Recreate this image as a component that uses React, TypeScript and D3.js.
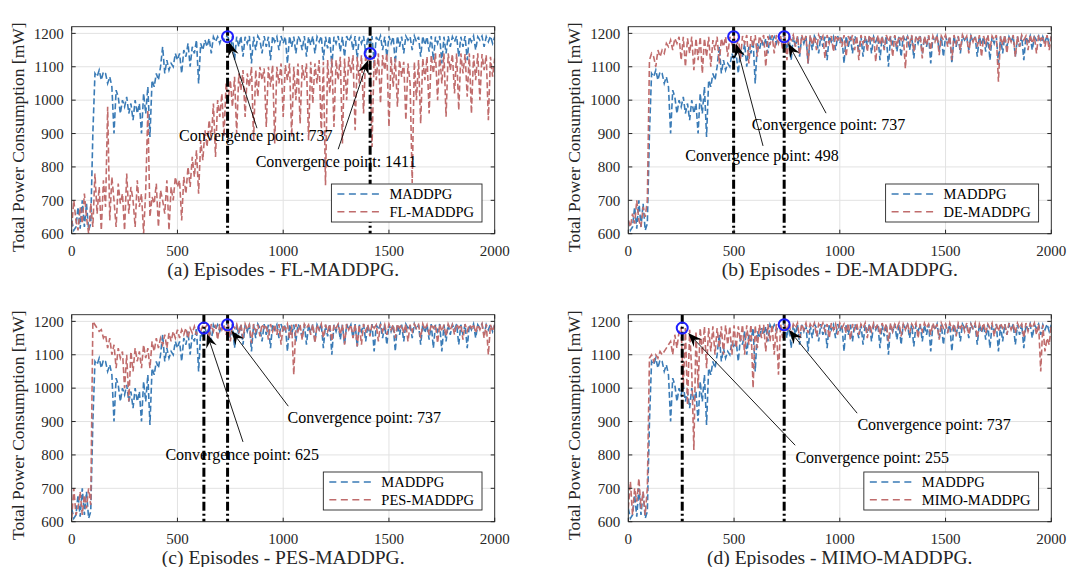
import React, { useEffect, useRef } from 'react';
import * as d3 from 'd3';

// Episodes sampled every 10 episodes, 0..2000
const EPISODES: number[] = d3.range(0, 2001, 10);

const MADDPG = [640,610,620,680,615,700,620,690,610,630,
 900,1080,1070,1090,1060,1085,1080,1050,1070,1040,
 900,1030,1010,960,1000,980,1010,960,990,940,
 1000,960,990,900,1020,960,1040,890,1060,1040,
 1080,1060,1100,1160,1080,1120,1090,1110,1100,1140,
 1120,1140,1080,1150,1130,1170,1100,1160,1140,1180,
 1050,1170,1150,1180,1160,1185,1140,1190,1175,1190,
 1170,1190,1180,1192,1188,1150,1192,1120,1190,1160,
 1192,1130,1190,1170,1192,1110,1190,1150,1192,1180,
 1140,1192,1160,1190,1120,1192,1175,1190,1150,1192,
 1170,1190,1110,1192,1160,1190,1140,1192,1180,1150,
 1192,1130,1190,1165,1192,1140,1190,1175,1192,1120,
 1190,1155,1192,1100,1190,1170,1192,1145,1190,1130,
 1192,1175,1190,1150,1192,1125,1190,1170,1192,1140,
 1190,1160,1192,1110,1190,1175,1192,1150,1190,1130,
 1192,1170,1190,1110,1192,1160,1190,1140,1192,1180,
 1190,1150,1192,1175,1190,1130,1192,1165,1190,1145,
 1192,1120,1190,1170,1192,1110,1190,1140,1192,1160,
 1190,1175,1192,1130,1190,1160,1192,1120,1190,1175,
 1192,1150,1190,1180,1192,1160,1190,1175,1192,1170,
 1190];

const FL_MADDPG = [620,700,640,610,680,630,720,650,600,690,
 620,780,660,740,610,760,680,980,640,770,
 700,620,750,690,720,610,780,660,740,700,
 620,760,680,720,600,730,970,650,710,690,
 750,620,730,700,660,760,610,740,700,770,
 740,760,640,770,720,800,740,830,770,850,
 720,880,820,910,860,940,880,990,830,1000,
 950,1020,890,1050,1000,1060,980,1070,900,1080,
 1030,1090,950,1080,1040,1100,880,1090,1010,1100,
 1060,1095,920,1100,1040,1105,870,1100,1050,1110,
 950,1105,1060,1110,890,1100,1000,1110,930,1105,
 1060,1110,880,1115,990,1110,1050,1120,900,1115,
 745,1120,1020,1125,920,1120,1060,1130,870,1125,
 1000,1130,1080,1135,910,1130,1050,1135,960,1140,
 1100,1140,860,1135,1060,1140,990,1135,1090,1140,
 920,1130,1040,1125,980,1120,1070,1115,940,1110,
 1050,752,1115,1000,1120,930,1125,1060,1130,960,
 1135,1080,1140,1000,1138,1050,1140,950,1140,1090,
 1138,1020,1140,970,1140,1080,1138,1010,1140,960,
 1135,1060,1140,1000,1138,1090,1135,940,1130,1070,
 1125];

const DE_MADDPG = [640,620,660,630,700,640,620,680,650,700,
 1120,1140,1130,1100,1150,1130,1150,1140,1170,1160,
 1180,1150,1185,1170,1190,1120,1190,1100,1185,1140,
 1190,1090,1185,1120,1190,1080,1185,1130,1190,1100,
 1180,1150,1190,1110,1185,1160,1190,1130,1190,1170,
 1192,1140,1195,1120,1192,1170,1195,1110,1192,1160,
 1195,1130,1192,1175,1195,1100,1192,1165,1195,1140,
 1195,1170,1192,1150,1195,1120,1192,1180,1195,1160,
 1192,1135,1195,1175,1192,1110,1195,1165,1192,1150,
 1195,1180,1192,1125,1195,1170,1192,1145,1195,1180,
 1192,1160,1195,1130,1192,1175,1195,1150,1192,1120,
 1195,1170,1192,1145,1195,1180,1192,1115,1195,1165,
 1192,1150,1195,1175,1192,1130,1195,1160,1192,1180,
 1195,1095,1192,1170,1195,1145,1192,1180,1195,1125,
 1192,1165,1195,1150,1192,1175,1195,1135,1192,1180,
 1195,1160,1192,1120,1195,1170,1192,1150,1195,1180,
 1192,1140,1195,1175,1192,1160,1195,1130,1192,1170,
 1195,1150,1192,1180,1195,1055,1192,1165,1195,1140,
 1192,1175,1195,1130,1192,1160,1195,1180,1192,1150,
 1195,1170,1192,1140,1195,1180,1192,1160,1195,1150,
 1192];

const PES_MADDPG = [610,700,620,640,690,620,680,640,700,650,
 1200,1190,1180,1170,1175,1150,1160,1120,1150,1100,
 1130,1060,1120,1090,1110,1000,1100,960,1110,1050,
 1120,1080,1110,1060,1130,1090,1120,1060,1140,1110,
 1150,1120,1150,1130,1160,1120,1165,1140,1170,1150,
 1175,1150,1175,1160,1180,1150,1180,1165,1185,1160,
 1185,1170,1188,1180,1190,1150,1192,1170,1190,1145,
 1192,1175,1190,1160,1192,1140,1190,1180,1192,1165,
 1190,1150,1192,1175,1190,1135,1192,1170,1190,1155,
 1192,1180,1190,1145,1192,1170,1190,1160,1192,1130,
 1190,1175,1192,1150,1190,1040,1192,1170,1190,1145,
 1192,1180,1190,1160,1192,1135,1190,1175,1192,1150,
 1190,1170,1192,1140,1190,1180,1192,1160,1190,1130,
 1192,1175,1190,1150,1192,1125,1190,1130,1192,1170,
 1190,1155,1192,1180,1190,1140,1192,1170,1190,1160,
 1192,1175,1190,1150,1192,1180,1190,1165,1192,1140,
 1190,1170,1192,1180,1190,1150,1192,1175,1190,1160,
 1192,1180,1190,1135,1192,1170,1190,1155,1192,1175,
 1190,1160,1192,1180,1190,1145,1192,1170,1190,1180,
 1192,1165,1190,1175,1192,1150,1192,1100,1190,1170,
 1190];

const MIMO_MADDPG = [640,720,620,700,660,730,640,690,620,700,
 1090,1100,1080,1100,1090,1110,1100,1110,1120,1130,
 1140,1100,1160,1120,1170,1180,1000,1180,950,1175,
 1050,815,1170,1000,1180,1100,1185,1060,1180,1110,
 1185,1100,1180,1120,1185,1100,1188,1130,1185,1100,
 1188,1120,1185,1140,1190,1100,1188,1130,1190,1000,
 1188,1120,1190,1150,1190,1110,1192,1140,1190,1100,
 1192,1040,1192,1150,1192,1170,1195,1160,1192,1180,
 1195,1150,1192,1175,1195,1165,1192,1180,1195,1155,
 1192,1180,1195,1170,1192,1150,1195,1175,1192,1160,
 1195,1180,1192,1165,1195,1145,1192,1175,1195,1160,
 1192,1180,1195,1150,1192,1170,1195,1180,1192,1160,
 1195,1175,1192,1140,1195,1170,1192,1180,1195,1155,
 1192,1175,1195,1165,1192,1180,1195,1150,1192,1170,
 1195,1180,1192,1160,1195,1175,1192,1145,1195,1180,
 1192,1165,1195,1175,1192,1155,1195,1180,1192,1170,
 1195,1160,1192,1180,1195,1150,1192,1175,1195,1165,
 1192,1180,1195,1155,1192,1170,1195,1180,1192,1160,
 1195,1175,1192,1165,1195,1180,1192,1150,1195,1170,
 1192,1180,1195,1160,1192,1050,1190,1110,1150,1130,
 1190];

const X_TICKS = [0, 500, 1000, 1500, 2000];
const Y_TICKS = [600, 700, 800, 900, 1000, 1100, 1200];

// convergence annotations: [episode, value], text anchor (data coords), arrow tail, arrow tip
type Conv = { ep: number; val: number; label: string; textAt: [number, number]; tail: [number, number]; tip: [number, number] };

const CONV_A: Conv[] = [
  { ep: 737, val: 1190, label: 'Convergence point: 737', textAt: [870, 893], tail: [876, 916], tip: [744, 1174] },
  { ep: 1411, val: 1140, label: 'Convergence point: 1411', textAt: [1250, 817], tail: [1260, 853], tip: [1401, 1120] },
];
const CONV_B: Conv[] = [
  { ep: 737, val: 1190, label: 'Convergence point: 737', textAt: [947, 928], tail: [935, 961], tip: [756, 1170] },
  { ep: 498, val: 1190, label: 'Convergence point: 498', textAt: [632, 833], tail: [637, 863], tip: [509, 1170] },
];
const CONV_C: Conv[] = [
  { ep: 737, val: 1190, label: 'Convergence point: 737', textAt: [1383, 913], tail: [1024, 946], tip: [755, 1172] },
  { ep: 625, val: 1180, label: 'Convergence point: 625', textAt: [806, 803], tail: [810, 839], tip: [640, 1163] },
];
const CONV_D: Conv[] = [
  { ep: 737, val: 1190, label: 'Convergence point: 737', textAt: [1446, 892], tail: [1082, 925], tip: [760, 1174] },
  { ep: 255, val: 1180, label: 'Convergence point: 255', textAt: [1153, 794], tail: [789, 829], tip: [283, 1165] },
];

const PANELS = [
  { key: 'a', left: 71.7, top: 26.7, name: 'FL-MADDPG', values: FL_MADDPG, caption: '(a) Episodes - FL-MADDPG.', conv: CONV_A },
  { key: 'b', left: 628.3, top: 26.7, name: 'DE-MADDPG', values: DE_MADDPG, caption: '(b) Episodes - DE-MADDPG.', conv: CONV_B },
  { key: 'c', left: 71.7, top: 314.7, name: 'PES-MADDPG', values: PES_MADDPG, caption: '(c) Episodes - PES-MADDPG.', conv: CONV_C },
  { key: 'd', left: 628.3, top: 314.7, name: 'MIMO-MADDPG', values: MIMO_MADDPG, caption: '(d) Episodes - MIMO-MADDPG.', conv: CONV_D },
];

const W = 1069, H = 567;
const PW = 423, PH = 207;
const BLUE = '#3a7bb6';
const RED = '#c06c6c';
const FONT = '"Liberation Serif", "Times New Roman", serif';

export default function App() {
  const ref = useRef<SVGSVGElement>(null);
  useEffect(() => {
    const svg = d3.select(ref.current);
    svg.selectAll('*').remove();
    svg.append('rect').attr('width', W).attr('height', H).attr('fill', '#fff');
    const defs = svg.append('defs');

    PANELS.forEach((p) => {
      const x = d3.scaleLinear().domain([0, 2000]).range([0, PW]);
      const y = d3.scaleLinear().domain([600, 1220]).range([PH, 0]);
      const g = svg.append('g').attr('transform', `translate(${p.left},${p.top})`);
      defs.append('clipPath').attr('id', `clip-${p.key}`).append('rect').attr('width', PW).attr('height', PH);

      // grid
      g.selectAll('.gx').data(X_TICKS).enter().append('line')
        .attr('x1', (d) => x(d)).attr('x2', (d) => x(d)).attr('y1', 0).attr('y2', PH)
        .attr('stroke', '#e2e2e2').attr('stroke-width', 1);
      g.selectAll('.gy').data(Y_TICKS).enter().append('line')
        .attr('y1', (d) => y(d)).attr('y2', (d) => y(d)).attr('x1', 0).attr('x2', PW)
        .attr('stroke', '#e2e2e2').attr('stroke-width', 1);

      const plot = g.append('g').attr('clip-path', `url(#clip-${p.key})`);
      const line = d3.line<number>().x((_, i) => x(EPISODES[i])).y((d) => y(d));
      plot.append('path').attr('d', line(MADDPG) as string).attr('fill', 'none')
        .attr('stroke', BLUE).attr('stroke-width', 1.6).attr('stroke-dasharray', '6,3');
      plot.append('path').attr('d', line(p.values) as string).attr('fill', 'none')
        .attr('stroke', RED).attr('stroke-width', 1.6).attr('stroke-dasharray', '6,3');

      // convergence lines
      p.conv.forEach((c) => {
        plot.append('line').attr('x1', x(c.ep)).attr('x2', x(c.ep)).attr('y1', 0).attr('y2', PH)
          .attr('stroke', '#000').attr('stroke-width', 3).attr('stroke-dasharray', '9,3,2,3');
      });
      p.conv.forEach((c) => {
        g.append('circle').attr('cx', x(c.ep)).attr('cy', y(c.val)).attr('r', 5.5)
          .attr('fill', 'none').attr('stroke', '#1f1fff').attr('stroke-width', 2);
      });

      // frame
      g.append('rect').attr('width', PW).attr('height', PH).attr('fill', 'none')
        .attr('stroke', '#262626').attr('stroke-width', 0.9);
      // ticks on all sides
      X_TICKS.forEach((t) => {
        g.append('line').attr('x1', x(t)).attr('x2', x(t)).attr('y1', PH).attr('y2', PH - 4).attr('stroke', '#262626');
        g.append('line').attr('x1', x(t)).attr('x2', x(t)).attr('y1', 0).attr('y2', 4).attr('stroke', '#262626');
        g.append('text').attr('x', x(t)).attr('y', PH + 17).attr('text-anchor', 'middle').attr('dy', '0.35em')
          .attr('font-family', FONT).attr('font-size', 15).attr('fill', '#262626').text(String(t));
      });
      Y_TICKS.forEach((t) => {
        g.append('line').attr('x1', 0).attr('x2', 4).attr('y1', y(t)).attr('y2', y(t)).attr('stroke', '#262626');
        g.append('line').attr('x1', PW).attr('x2', PW - 4).attr('y1', y(t)).attr('y2', y(t)).attr('stroke', '#262626');
        g.append('text').attr('x', -8).attr('y', y(t)).attr('text-anchor', 'end').attr('dy', '0.35em')
          .attr('font-family', FONT).attr('font-size', 15).attr('fill', '#262626').text(String(t));
      });

      // y label
      g.append('text').attr('transform', `translate(${-54},${PH / 2 + 7}) rotate(-90)`)
        .attr('text-anchor', 'middle').attr('dy', '0.35em')
        .attr('font-family', FONT).attr('font-size', 17.5).attr('fill', '#262626')
        .text('Total Power Consumption [mW]');
      // caption
      g.append('text').attr('x', PW / 2).attr('y', PH + 35).attr('text-anchor', 'middle').attr('dy', '0.35em')
        .attr('font-family', FONT).attr('font-size', 19.5).attr('fill', '#262626').text(p.caption);

      // annotations
      p.conv.forEach((c) => {
        const tx = x(c.tail[0]), ty = y(c.tail[1]);
        const hx = x(c.tip[0]), hy = y(c.tip[1]);
        const len = Math.hypot(hx - tx, hy - ty);
        const ux = (hx - tx) / len, uy = (hy - ty) / len;
        const nx = -uy, ny = ux;
        const L = 14, Wd = 5.5;
        g.append('line').attr('x1', tx).attr('y1', ty).attr('x2', hx - ux * 8).attr('y2', hy - uy * 8)
          .attr('stroke', '#000').attr('stroke-width', 0.9);
        const pts = [
          [hx, hy],
          [hx - ux * L + nx * Wd, hy - uy * L + ny * Wd],
          [hx - ux * L * 0.65, hy - uy * L * 0.65],
          [hx - ux * L - nx * Wd, hy - uy * L - ny * Wd],
        ];
        g.append('polygon').attr('points', pts.map((q) => q.join(',')).join(' ')).attr('fill', '#000');
        g.append('text').attr('x', x(c.textAt[0])).attr('y', y(c.textAt[1])).attr('text-anchor', 'middle')
          .attr('dy', '0.35em').attr('font-family', FONT).attr('font-size', 16).attr('fill', '#000').text(c.label);
      });

      // legend
      const lg = g.append('g');
      const t1 = lg.append('text').attr('font-family', FONT).attr('font-size', 14.5).text(p.name);
      const tw = (t1.node() as SVGTextElement).getComputedTextLength();
      t1.remove();
      const lw = 58 + tw + 8, lh = 38;
      const lx = PW - 12.7 - lw, ly = PH - 11.7 - lh;
      lg.append('rect').attr('x', lx).attr('y', ly).attr('width', lw).attr('height', lh)
        .attr('fill', '#fff').attr('stroke', '#262626').attr('stroke-width', 0.9);
      [['MADDPG', BLUE], [p.name, RED]].forEach(([label, col], i) => {
        const yy = ly + 10 + i * 17.7;
        lg.append('line').attr('x1', lx + 6).attr('x2', lx + 49).attr('y1', yy).attr('y2', yy)
          .attr('stroke', col).attr('stroke-width', 1.4).attr('stroke-dasharray', '7,4.5');
        lg.append('text').attr('x', lx + 58).attr('y', yy).attr('dy', '0.35em')
          .attr('font-family', FONT).attr('font-size', 14.5).attr('fill', '#000').text(label);
      });
    });
  }, []);
  return (
    <svg ref={ref} width={W} height={H} style={{ position: 'absolute', left: 0, top: 0 }} />
  );
}
